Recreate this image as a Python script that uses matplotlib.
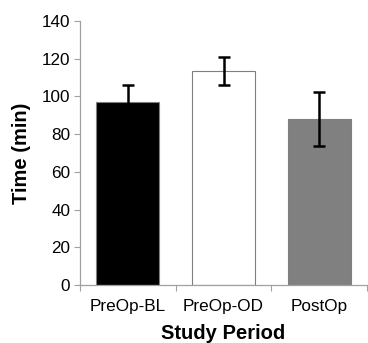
import matplotlib
matplotlib.use("Agg")
import matplotlib.pyplot as plt
import numpy as np

plt.rcParams['font.family'] = ['Liberation Sans', 'DejaVu Sans']

# data
periods = ["PreOp-BL", "PreOp-OD", "PostOp"]
mean_time = [97, 113.5, 88]
err_time = [9, 7.5, 14.5]
bar_colors = ["#000000", "#ffffff", "#808080"]

fig = plt.figure(figsize=[3.68, 3.43], dpi=100)
ax = fig.add_axes([0.217, 0.169, 0.781, 0.770])

x = np.arange(len(periods))
ax.bar(x, mean_time, width=0.66, color=bar_colors, edgecolor="#7f7f7f", linewidth=0.8)
ax.errorbar(x, mean_time, yerr=err_time, fmt="none", ecolor="black",
            elinewidth=1.8, capsize=4, capthick=1.8)

ax.set_xlim(-0.5, 2.5)
ax.set_ylim(0, 140)
ax.set_yticks(range(0, 141, 20))
ax.set_xticks([-0.5, 0.5, 1.5, 2.5])
ax.set_xticklabels([])
ax.set_xticks(x, minor=True)
ax.set_xticklabels(periods, minor=True)
ax.tick_params(axis="x", which="minor", length=0, labelsize=12.3, pad=10)
ax.tick_params(axis="x", which="major", length=4, color="#a0a0a0", direction="out")
ax.tick_params(axis="y", length=4, color="#a0a0a0", labelsize=12.3, pad=3)

for s in ["top", "right"]:
    ax.spines[s].set_visible(False)
for s in ["left", "bottom"]:
    ax.spines[s].set_color("#a0a0a0")
    ax.spines[s].set_linewidth(0.9)

ax.set_ylabel("Time (min)", fontsize=14.5, fontweight="bold", labelpad=8)
ax.set_xlabel("Study Period", fontsize=14.5, fontweight="bold", labelpad=7)

plt.savefig("out.png", dpi=100)
